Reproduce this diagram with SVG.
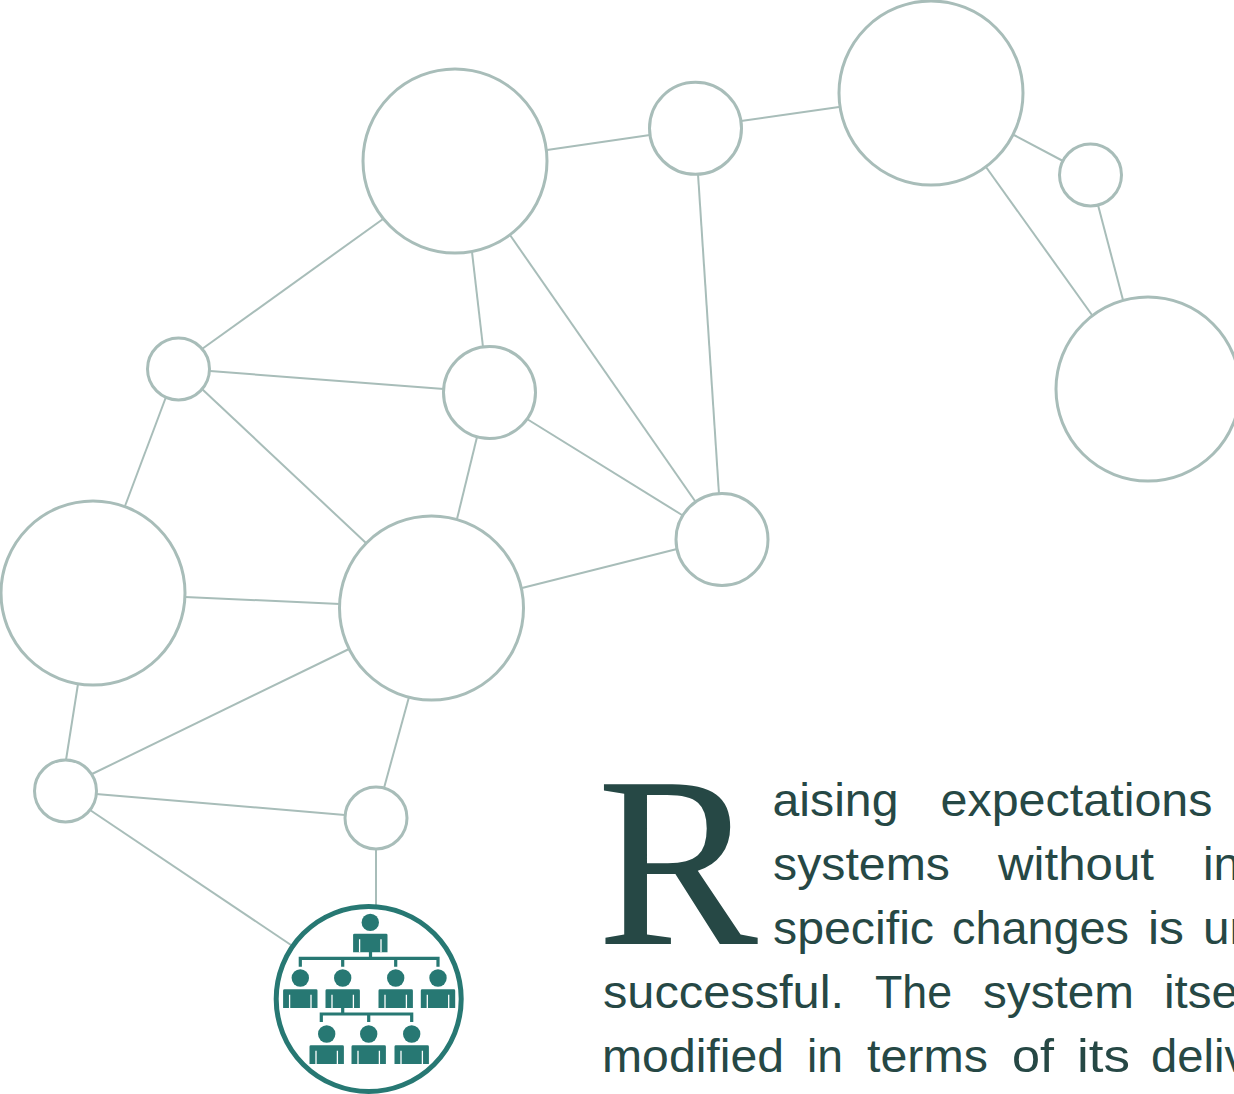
<svg xmlns="http://www.w3.org/2000/svg" xmlns:xlink="http://www.w3.org/1999/xlink" width="1234" height="1094" viewBox="0 0 1234 1094">
<style>
.n{fill:#fff;stroke:#a8bdb9;stroke-width:3}
.c line{stroke:#a8bdb9;stroke-width:2}
.t{font-family:"Liberation Sans",sans-serif;font-size:46px;fill:#264845}
.cap{font-family:"Liberation Serif",serif;font-size:244px;fill:#264845}
.p{fill:#277873}
.w{fill:none;stroke:#277873;stroke-width:3.2}
</style>
<defs>
<g id="person">
<circle cy="-11.3" r="8.7" class="p"/>
<path class="p" d="M-15.8 0H15.8Q17.2 0 17.2 1.4V18.6H-17.2V1.4Q-17.2 0-15.8 0Z"/>
<path d="M-10.7 5.5V18.6M10.7 5.5V18.6" stroke="#fff" stroke-width="1.3" fill="none"/>
</g>
</defs>
<g id="connectors" class="c">
<line x1="547" y1="150" x2="650" y2="135"/>
<line x1="741" y1="121" x2="839" y2="107"/>
<line x1="1014" y1="135" x2="1063" y2="161"/>
<line x1="986" y1="167" x2="1092" y2="315"/>
<line x1="1098" y1="205" x2="1123" y2="300"/>
<line x1="383" y1="219" x2="202" y2="349"/>
<line x1="472" y1="252" x2="483" y2="347"/>
<line x1="510" y1="235" x2="695" y2="501"/>
<line x1="698" y1="174" x2="719" y2="494"/>
<line x1="210" y1="371" x2="444" y2="389"/>
<line x1="202" y1="389" x2="366" y2="543"/>
<line x1="166" y1="397" x2="125" y2="506"/>
<line x1="477" y1="437" x2="457" y2="519"/>
<line x1="527" y1="419" x2="682" y2="515"/>
<line x1="522" y1="588" x2="677" y2="549"/>
<line x1="185" y1="597" x2="340" y2="604"/>
<line x1="78" y1="684" x2="66" y2="760"/>
<line x1="349" y1="649" x2="92" y2="774"/>
<line x1="409" y1="697" x2="384" y2="788"/>
<line x1="96" y1="794" x2="345" y2="815"/>
<line x1="90" y1="810" x2="291" y2="945"/>
<line x1="376" y1="849" x2="376" y2="905"/>
</g>
<g id="node-1"><circle class="n" cx="455" cy="161" r="92"/></g>
<g id="node-2"><circle class="n" cx="695.5" cy="128.3" r="46"/></g>
<g id="node-3"><circle class="n" cx="931" cy="93" r="92"/></g>
<g id="node-4"><circle class="n" cx="1090.5" cy="175" r="31"/></g>
<g id="node-5"><circle class="n" cx="1148" cy="389" r="92"/></g>
<g id="node-6"><circle class="n" cx="178.5" cy="369" r="31"/></g>
<g id="node-7"><circle class="n" cx="489.5" cy="392.5" r="46"/></g>
<g id="node-8"><circle class="n" cx="722" cy="539.5" r="46"/></g>
<g id="node-9"><circle class="n" cx="93" cy="593" r="92"/></g>
<g id="node-10"><circle class="n" cx="431.5" cy="608" r="92"/></g>
<g id="node-11"><circle class="n" cx="65.5" cy="791" r="31"/></g>
<g id="node-12"><circle class="n" cx="376" cy="818" r="31"/></g>
<g id="node-org">
<circle cx="368.7" cy="999" r="92.5" fill="#fff" stroke="#277873" stroke-width="5"/>
<path class="w" d="M370.5 952V958.3M300.3 966.7V958.3H438V966.7M342.7 958.3V966.7M395.7 958.3V966.7M342.7 1007V1014H321.3V1022M342.7 1014H411.7V1022M368.7 1014V1022"/>
<use xlink:href="#person" href="#person" x="370.3" y="933.7"/>
<use xlink:href="#person" href="#person" x="300.3" y="989.3"/>
<use xlink:href="#person" href="#person" x="342.7" y="989.3"/>
<use xlink:href="#person" href="#person" x="395.7" y="989.3"/>
<use xlink:href="#person" href="#person" x="438" y="989.3"/>
<use xlink:href="#person" href="#person" x="326.7" y="1045.3"/>
<use xlink:href="#person" href="#person" x="368.7" y="1045.3"/>
<use xlink:href="#person" href="#person" x="411.7" y="1045.3"/>
</g>
<g id="text">
<text class="cap" x="597" y="944" textLength="161" lengthAdjust="spacingAndGlyphs">R</text>
<text class="t" y="816" x="772.5" textLength="126" lengthAdjust="spacingAndGlyphs">aising</text>
<text class="t" y="816" x="940.5" textLength="272" lengthAdjust="spacingAndGlyphs">expectations</text>
<text class="t" y="880" x="773" textLength="177" lengthAdjust="spacingAndGlyphs">systems</text>
<text class="t" y="880" x="998" textLength="156" lengthAdjust="spacingAndGlyphs">without</text>
<text class="t" y="880" x="1203" textLength="37" lengthAdjust="spacingAndGlyphs">in</text>
<text class="t" y="944" x="773" textLength="161" lengthAdjust="spacingAndGlyphs">specific</text>
<text class="t" y="944" x="952" textLength="177" lengthAdjust="spacingAndGlyphs">changes</text>
<text class="t" y="944" x="1148" textLength="36" lengthAdjust="spacingAndGlyphs">is</text>
<text class="t" y="944" x="1203" textLength="53" lengthAdjust="spacingAndGlyphs">un</text>
<text class="t" y="1008" x="603" textLength="241" lengthAdjust="spacingAndGlyphs">successful.</text>
<text class="t" y="1008" x="875" textLength="77" lengthAdjust="spacingAndGlyphs">The</text>
<text class="t" y="1008" x="983" textLength="151" lengthAdjust="spacingAndGlyphs">system</text>
<text class="t" y="1008" x="1164" textLength="74" lengthAdjust="spacingAndGlyphs">itse</text>
<text class="t" y="1072" x="602" textLength="182" lengthAdjust="spacingAndGlyphs">modified</text>
<text class="t" y="1072" x="807" textLength="36" lengthAdjust="spacingAndGlyphs">in</text>
<text class="t" y="1072" x="867" textLength="121" lengthAdjust="spacingAndGlyphs">terms</text>
<text class="t" y="1072" x="1012" textLength="42" lengthAdjust="spacingAndGlyphs">of</text>
<text class="t" y="1072" x="1077" textLength="53" lengthAdjust="spacingAndGlyphs">its</text>
<text class="t" y="1072" x="1151" textLength="97" lengthAdjust="spacingAndGlyphs">deliv</text>
</g>
</svg>
